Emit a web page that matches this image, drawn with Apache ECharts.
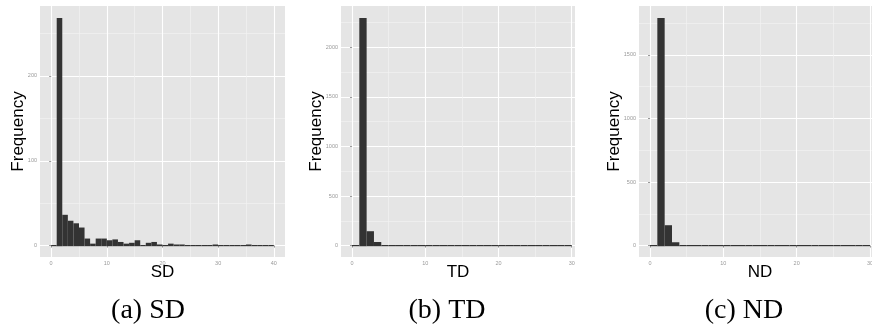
<!DOCTYPE html>
<html>
<head>
<meta charset="utf-8">
<script src="https://cdn.jsdelivr.net/npm/echarts@6/dist/echarts.min.js"></script>
<style>
html,body{margin:0;padding:0;background:#fff;}
#main{width:872px;height:333px;}
</style>
</head>
<body>
<div id="main"></div>
<script>
// ---- data (histograms, bin width 1, first bin starts at 0) ----
const binStart = 0;
const binWidth = 1;
const sdCounts = [0,269,37,30,27,22,9,3,9,9,7,8,5,3,4,7,1,4,5,2,1,3,2,2,1,0,0,0,1,2,1,1,1,0,1,2,0,1,0,0];
const tdCounts = [0,2300,151,42,10,5,0,0,0,0,0,0,0,0,0,0,0,0,0,0,0,0,0,0,0,0,0,0,0,0];
const ndCounts = [0,1795,165,31,0,0,0,0,0,0,0,0,0,0,0,0,0,0,0,0,0,0,0,0,0,0,0,0,0,0];
const sdXTicks = [0,10,20,30,40];
const sdYTicks = [0,100,200];
const tdXTicks = [0,10,20,30];
const tdYTicks = [0,500,1000,1500,2000];
const ndXTicks = [0,10,20,30];
const ndYTicks = [0,500,1000,1500];
const axisTitles = ['SD','TD','ND'];
const yTitle = 'Frequency';
const captions = ['(a) SD','(b) TD','(c) ND'];

// ---- layout ----
const panels = [
  {counts: sdCounts, xt: sdXTicks, yt: sdYTicks, left: 40, width: 245, xPadR: 2,    capX: 148, yGap: 13},
  {counts: tdCounts, xt: tdXTicks, yt: tdYTicks, left: 341, width: 234, xPadR: 0.45, capX: 447, yGap: 16},
  {counts: ndCounts, xt: ndXTicks, yt: ndYTicks, left: 639, width: 242, xPadR: 1.5, capX: 744, yGap: 16}
];
const plotTop = 6, plotHeight = 251;

function minors(majors, lo, hi) {
  const step = majors[1] - majors[0];
  const out = [];
  const first = majors[0] - step / 2;
  if (first > lo) out.push(first);
  for (let i = 0; i < majors.length; i++) {
    const m = majors[i] + step / 2;
    if (m < hi) out.push(m);
  }
  return out;
}
const fmt = v => String(Math.round(v));

const grid = [], xAxis = [], yAxis = [], series = [], graphic = [];
panels.forEach((p, i) => {
  const n = p.counts.length;
  const xLo = binStart, xHi = binStart + n * binWidth;
  const span = xHi - xLo;
  const xMin = xLo - 0.05 * span;
  const xMax = xHi + p.xPadR;
  const cMax = Math.max(...p.counts);
  const yMin = -0.05 * cMax, yMax = 1.05 * cMax;
  grid.push({left: p.left, top: plotTop, width: p.width, height: plotHeight, show: true,
    backgroundColor: '#E5E5E5', borderWidth: 0, containLabel: false, outerBoundsMode: 'none'});
  const gi = i;
  xAxis.push({type: 'value', gridIndex: gi, min: xMin, max: xMax,
    name: axisTitles[i], nameLocation: 'middle', nameGap: 7, nameMoveOverlap: false,
    nameTextStyle: {fontFamily: 'Liberation Sans', fontSize: 17, color: '#000', verticalAlign: 'top'},
    axisLine: {show: false},
    axisTick: {show: true, length: 2, lineStyle: {color: '#7F7F7F', width: 0.8}, customValues: p.xt},
    axisLabel: {show: true, customValues: p.xt, formatter: fmt, fontSize: 5.5, color: '#999', margin: 3, fontFamily: 'Liberation Sans'},
    splitLine: {show: true, lineStyle: {color: '#FFFFFF', width: 1.1}}
  });
  xAxis.push({type: 'value', gridIndex: gi, min: xMin, max: xMax,
    axisLine: {show: false}, axisTick: {show: false, customValues: minors(p.xt, xMin, xMax)},
    axisLabel: {show: false, customValues: minors(p.xt, xMin, xMax)},
    splitLine: {show: true, lineStyle: {color: '#F2F2F2', width: 0.7}}
  });
  yAxis.push({type: 'value', gridIndex: gi, min: yMin, max: yMax,
    name: yTitle, nameLocation: 'middle', nameGap: p.yGap, nameRotate: 90, nameMoveOverlap: false,
    nameTextStyle: {fontFamily: 'Liberation Sans', fontSize: 17, color: '#000'},
    axisLine: {show: false},
    axisTick: {show: true, length: 2, lineStyle: {color: '#7F7F7F', width: 0.8}, customValues: p.yt},
    axisLabel: {show: true, customValues: p.yt, formatter: fmt, fontSize: 5.5, color: '#999', margin: 3, fontFamily: 'Liberation Sans'},
    splitLine: {show: true, lineStyle: {color: '#FFFFFF', width: 1.1}}
  });
  yAxis.push({type: 'value', gridIndex: gi, min: yMin, max: yMax,
    axisLine: {show: false}, axisTick: {show: false, customValues: minors(p.yt, yMin, yMax)},
    axisLabel: {show: false, customValues: minors(p.yt, yMin, yMax)},
    splitLine: {show: true, lineStyle: {color: '#F2F2F2', width: 0.7}}
  });
  const data = p.counts.map((c, k) => [binStart + k * binWidth, binStart + (k + 1) * binWidth, c]);
  series.push({
    type: 'custom', xAxisIndex: 2 * i, yAxisIndex: 2 * i, data: data,
    encode: {x: [0, 1], y: 2}, silent: true, animation: false,
    renderItem: function (params, api) {
      const x0 = api.value(0), x1 = api.value(1), c = api.value(2);
      const pTop = api.coord([x0, c]);
      const pBot = api.coord([x1, 0]);
      const h = Math.max(pBot[1] - pTop[1], 1.2);
      return {type: 'rect', shape: {x: pTop[0], y: pBot[1] - h + 0.6, width: pBot[0] - pTop[0], height: h},
        style: {fill: '#333333'}};
    }
  });
  graphic.push({type: 'text', x: p.capX, y: 311, style: {
    text: captions[i], fontFamily: 'Liberation Serif', fontSize: 28, fill: '#000',
    align: 'center', verticalAlign: 'middle'}});
});

const chart = echarts.init(document.getElementById('main'), null, {renderer: 'canvas'});
chart.setOption({animation: false, grid, xAxis, yAxis, series, graphic});
</script>
</body>
</html>
